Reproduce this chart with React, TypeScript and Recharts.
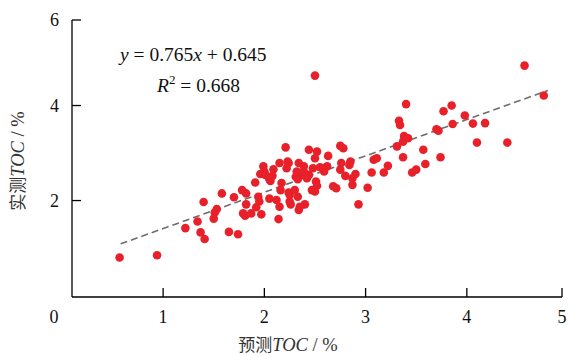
import React from "react";
import { ScatterChart, Scatter, XAxis, YAxis, ReferenceLine } from "recharts";

const predicted = [
  0.57, 0.94, 1.22, 1.34, 1.37, 1.41, 1.4, 1.5, 1.51, 1.53, 1.58, 1.65, 1.74, 1.7, 1.78, 1.82, 1.82, 1.79, 1.81, 1.87,
  1.91, 1.92, 1.94, 1.95, 1.96, 1.97, 1.99, 2.0, 2.01, 2.05, 2.05, 2.06, 2.09, 2.08, 2.12, 2.15, 2.14, 2.15, 2.17, 2.16,
  2.22, 2.24, 2.23, 2.21, 2.25, 2.26, 2.25, 2.24, 2.3, 2.33, 2.34, 2.35, 2.31, 2.33, 2.35, 2.32, 2.34, 2.39, 2.39, 2.42,
  2.44, 2.4, 2.44, 2.5, 2.52, 2.48, 2.47, 2.5, 2.52, 2.51, 2.55, 2.58, 2.62, 2.63, 2.59, 2.68, 2.71, 2.75, 2.78, 2.75,
  2.76, 2.85, 2.84, 2.8, 2.87, 2.9, 2.87, 2.93, 3.02, 3.06, 3.08, 3.11, 3.18, 3.22, 3.31, 3.33, 3.34, 4.57, 4.76, 3.4,
  3.77, 3.85, 3.98, 4.06, 4.18, 3.86, 3.7, 3.72, 4.1, 4.4, 3.38, 3.42, 3.37, 3.37, 3.57, 3.59, 3.74, 3.46, 3.5, 2.5,
];
const measured = [
  0.8, 0.85, 1.42, 1.56, 1.33, 1.19, 1.97, 1.62, 1.75, 1.82, 2.15, 1.34, 1.29, 2.07, 2.22, 2.15, 1.92, 1.73, 1.68, 1.73,
  2.38, 1.86, 2.08, 1.98, 2.56, 1.71, 2.72, 2.61, 2.54, 2.04, 2.45, 2.41, 2.66, 2.52, 2.01, 1.87, 1.61, 2.79, 2.37, 2.22,
  2.68, 2.79, 2.82, 3.12, 1.98, 1.92, 2.12, 2.17, 2.22, 2.08, 1.8, 1.87, 2.5, 2.45, 2.54, 2.61, 2.79, 2.72, 2.61, 2.47,
  2.54, 1.92, 3.07, 2.89, 3.03, 2.68, 2.22, 2.19, 2.31, 2.4, 2.7, 2.68, 2.72, 2.94, 2.61, 2.3, 2.26, 3.15, 3.1, 2.65,
  2.79, 2.82, 2.75, 2.52, 2.47, 2.56, 2.33, 1.92, 2.27, 2.59, 2.86, 2.89, 2.59, 2.73, 3.14, 3.68, 3.59, 4.84, 4.21, 4.03,
  3.88, 4.0, 3.79, 3.62, 3.63, 3.61, 3.5, 3.47, 3.22, 3.22, 3.36, 3.31, 3.24, 2.91, 3.07, 2.77, 2.91, 2.59, 2.65, 4.63,
];

const slope = 0.765;
const intercept = 0.645;
const fitRange = [0.58, 4.8];

const xTicks = [0.1, 1, 2, 3, 4, 4.94];
const xTickLabels = ["0", "1", "2", "3", "4", "5"];
const yTicks = [2, 4, 5.8];
const yTickLabels = ["2", "4", "6"];

const data = predicted.map((x, i) => ({ x, y: measured[i] }));

const FONT = "'Liberation Serif', 'Times New Roman', serif";
const CJK = "'Liberation Serif', 'Noto Sans CJK SC', serif";

const XTick = (props: any) => {
  const { x, y, payload } = props;
  const idx = xTicks.indexOf(payload.value);
  const label = xTickLabels[idx] ?? String(payload.value);
  const dx = idx === 0 ? -18 : 0;
  return (
    <g>
      {idx !== 0 && <line x1={x} y1={y} x2={x} y2={y - 9} stroke="#000" strokeWidth={1.3} />}
      <text x={x + dx} y={y + 26} textAnchor="middle" fontFamily={FONT} fontSize={18} fill="#111">
        {label}
      </text>
    </g>
  );
};

const YTick = (props: any) => {
  const { x, y, payload } = props;
  const idx = yTicks.indexOf(payload.value);
  const label = yTickLabels[idx] ?? String(payload.value);
  return (
    <g>
      <line x1={x} y1={y} x2={x + 9} y2={y} stroke="#000" strokeWidth={1.3} />
      <text x={x - 13} y={y + 6} textAnchor="end" fontFamily={FONT} fontSize={18} fill="#111">
        {label}
      </text>
    </g>
  );
};

const Dot = (props: any) => {
  const { cx, cy } = props;
  return <circle cx={cx} cy={cy} r={4.3} fill="#e8202a" />;
};

export default function App() {
  return (
    <div style={{ position: "absolute", left: 0, top: 0, background: "#fff" }}>
      <ScatterChart width={568} height={356} margin={{ top: 20, right: 6, bottom: 0, left: 0 }}>
        <XAxis
          type="number"
          dataKey="x"
          domain={[0.1, 4.94]}
          ticks={xTicks}
          interval={0}
          allowDataOverflow
          height={59}
          tickSize={0}
          tickMargin={0}
          tickLine={false}
          axisLine={{ stroke: "#000", strokeWidth: 1.3 }}
          tick={<XTick />}
        />
        <YAxis
          type="number"
          dataKey="y"
          domain={[-0.03, 5.8]}
          ticks={yTicks}
          interval={0}
          allowDataOverflow
          width={72}
          tickSize={0}
          tickMargin={0}
          tickLine={false}
          axisLine={{ stroke: "#000", strokeWidth: 1.3 }}
          tick={<YTick />}
        />
        <ReferenceLine
          segment={[
            { x: fitRange[0], y: slope * fitRange[0] + intercept },
            { x: fitRange[1], y: slope * fitRange[1] + intercept },
          ]}
          stroke="#6e6e6e"
          strokeWidth={1.6}
          strokeDasharray="7 4"
          ifOverflow="visible"
        />
        <Scatter data={data} shape={<Dot />} isAnimationActive={false} />
        <text x={120} y={61} fontFamily={FONT} fontSize={19.5} fill="#111">
          <tspan fontStyle="italic">y</tspan> = 0.765<tspan fontStyle="italic">x</tspan> + 0.645
        </text>
        <text x={157} y={92} fontFamily={FONT} fontSize={19.5} fill="#111">
          <tspan fontStyle="italic">R</tspan>
          <tspan fontSize={13} dy={-8}>2</tspan>
          <tspan dy={8}> = 0.668</tspan>
        </text>
        <text x={288} y={351} textAnchor="middle" fontFamily={CJK} fontSize={17} fill="#333">
          预测<tspan fontStyle="italic" fontFamily={FONT} fontSize={18.5}>TOC</tspan>
          <tspan fontFamily={FONT} fontSize={18.5}> / %</tspan>
        </text>
        <text
          x={0}
          y={0}
          transform="translate(24,161) rotate(-90)"
          textAnchor="middle"
          fontFamily={CJK}
          fontSize={17}
          fill="#333"
        >
          实测<tspan fontStyle="italic" fontFamily={FONT} fontSize={18.5}>TOC</tspan>
          <tspan fontFamily={FONT} fontSize={18.5}> / %</tspan>
        </text>
      </ScatterChart>
    </div>
  );
}
